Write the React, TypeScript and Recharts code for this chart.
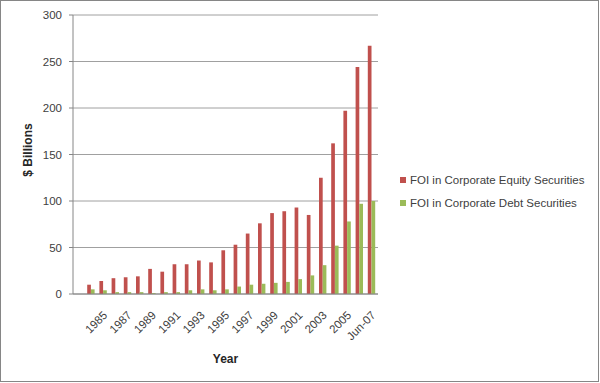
import React from 'react';
import { BarChart, Bar, XAxis, YAxis, CartesianGrid, Label } from 'recharts';

const categories = ['', '1984', '1985', '1986', '1987', '1988', '1989', '1990', '1991', '1992', '1993', '1994', '1995', '1996', '1997', '1998', '1999', '2000', '2001', '2002', '2003', '2004', '2005', '2006', 'Jun-07'];
const equity = [null, 10, 14, 17, 18, 19, 27, 24, 32, 32, 36, 34, 47, 53, 65, 76, 87, 89, 93, 85, 125, 162, 197, 244, 267];
const debt = [null, 5, 4, 2, 2, 2, 1, 2, 2, 4, 5, 4, 5, 8, 10, 11, 12, 13, 16, 20, 31, 52, 78, 97, 100];
const yTicks = [0, 50, 100, 150, 200, 250, 300];

const EQUITY_NAME = 'FOI in Corporate Equity Securities';
const DEBT_NAME = 'FOI in Corporate Debt Securities';
const RED = '#C0504D';
const GREEN = '#9BBB59';
const FONT = '"Liberation Sans", Arial, sans-serif';
const TEXT = '#404040';

const data = categories.map((c, i) => ({ year: c, equity: equity[i], debt: debt[i] }));

const XTick = (props: any) => {
  const { x, y, payload } = props;
  const ax = x + 4.5;
  const ay = y + 22;
  return (
    <text x={ax} y={ay} transform={`rotate(-45, ${ax}, ${ay})`} textAnchor="end" fontSize={11.5} fontFamily={FONT} fill={TEXT}>
      {payload.value}
    </text>
  );
};

const LegendBox = () => {
  const items = [
    { name: EQUITY_NAME, color: RED },
    { name: DEBT_NAME, color: GREEN },
  ];
  return (
    <div style={{ position: 'absolute', left: 400, top: 169, width: 200, fontFamily: FONT, fontSize: 11.5, color: TEXT }}>
      {items.map((it) => (
        <div key={it.name} style={{ display: 'flex', alignItems: 'center', height: 22.5, whiteSpace: 'nowrap' }}>
          <span style={{ display: 'inline-block', width: 6, height: 6, background: it.color, marginRight: 4 }} />
          <span>{it.name}</span>
        </div>
      ))}
    </div>
  );
};

export default function App() {
  return (
    <div style={{ position: 'absolute', left: 0, top: 0, width: 600, height: 383, background: '#fff' }}>
      <BarChart width={600} height={383} data={data} margin={{ top: 15, right: 222, bottom: 0, left: 0 }} barGap={0} barSize={3.7}>
        <CartesianGrid vertical={false} stroke="#a0a0a0" />
        <XAxis
          dataKey="year"
          interval={1}
          tick={<XTick />}
          tickLine={false}
          tickSize={0}
          tickMargin={0}
          height={89}
          stroke="#868686"
        >
          <Label
            content={() => (
              <text x={225.5} y={363} textAnchor="middle" fontSize={12} fontWeight="bold" fontFamily={FONT} fill="#262626">
                Year
              </text>
            )}
          />
        </XAxis>
        <YAxis
          width={73}
          domain={[0, 300]}
          ticks={yTicks}
          tickSize={4}
          tickMargin={7}
          stroke="#868686"
          tick={{ fontSize: 11.5, fontFamily: FONT, fill: TEXT }}
        >
          <Label
            content={() => (
              <text x={32} y={150} transform="rotate(-90, 32, 150)" textAnchor="middle" fontSize={12} fontWeight="bold" fontFamily={FONT} fill="#262626">
                $ Billions
              </text>
            )}
          />
        </YAxis>
        <Bar dataKey="equity" name={EQUITY_NAME} fill={RED} isAnimationActive={false} />
        <Bar dataKey="debt" name={DEBT_NAME} fill={GREEN} isAnimationActive={false} />
      </BarChart>
      <LegendBox />
      <div style={{ position: 'absolute', left: 0, top: 0, width: 597, height: 380, border: '1px solid #868686', pointerEvents: 'none' }} />
    </div>
  );
}
